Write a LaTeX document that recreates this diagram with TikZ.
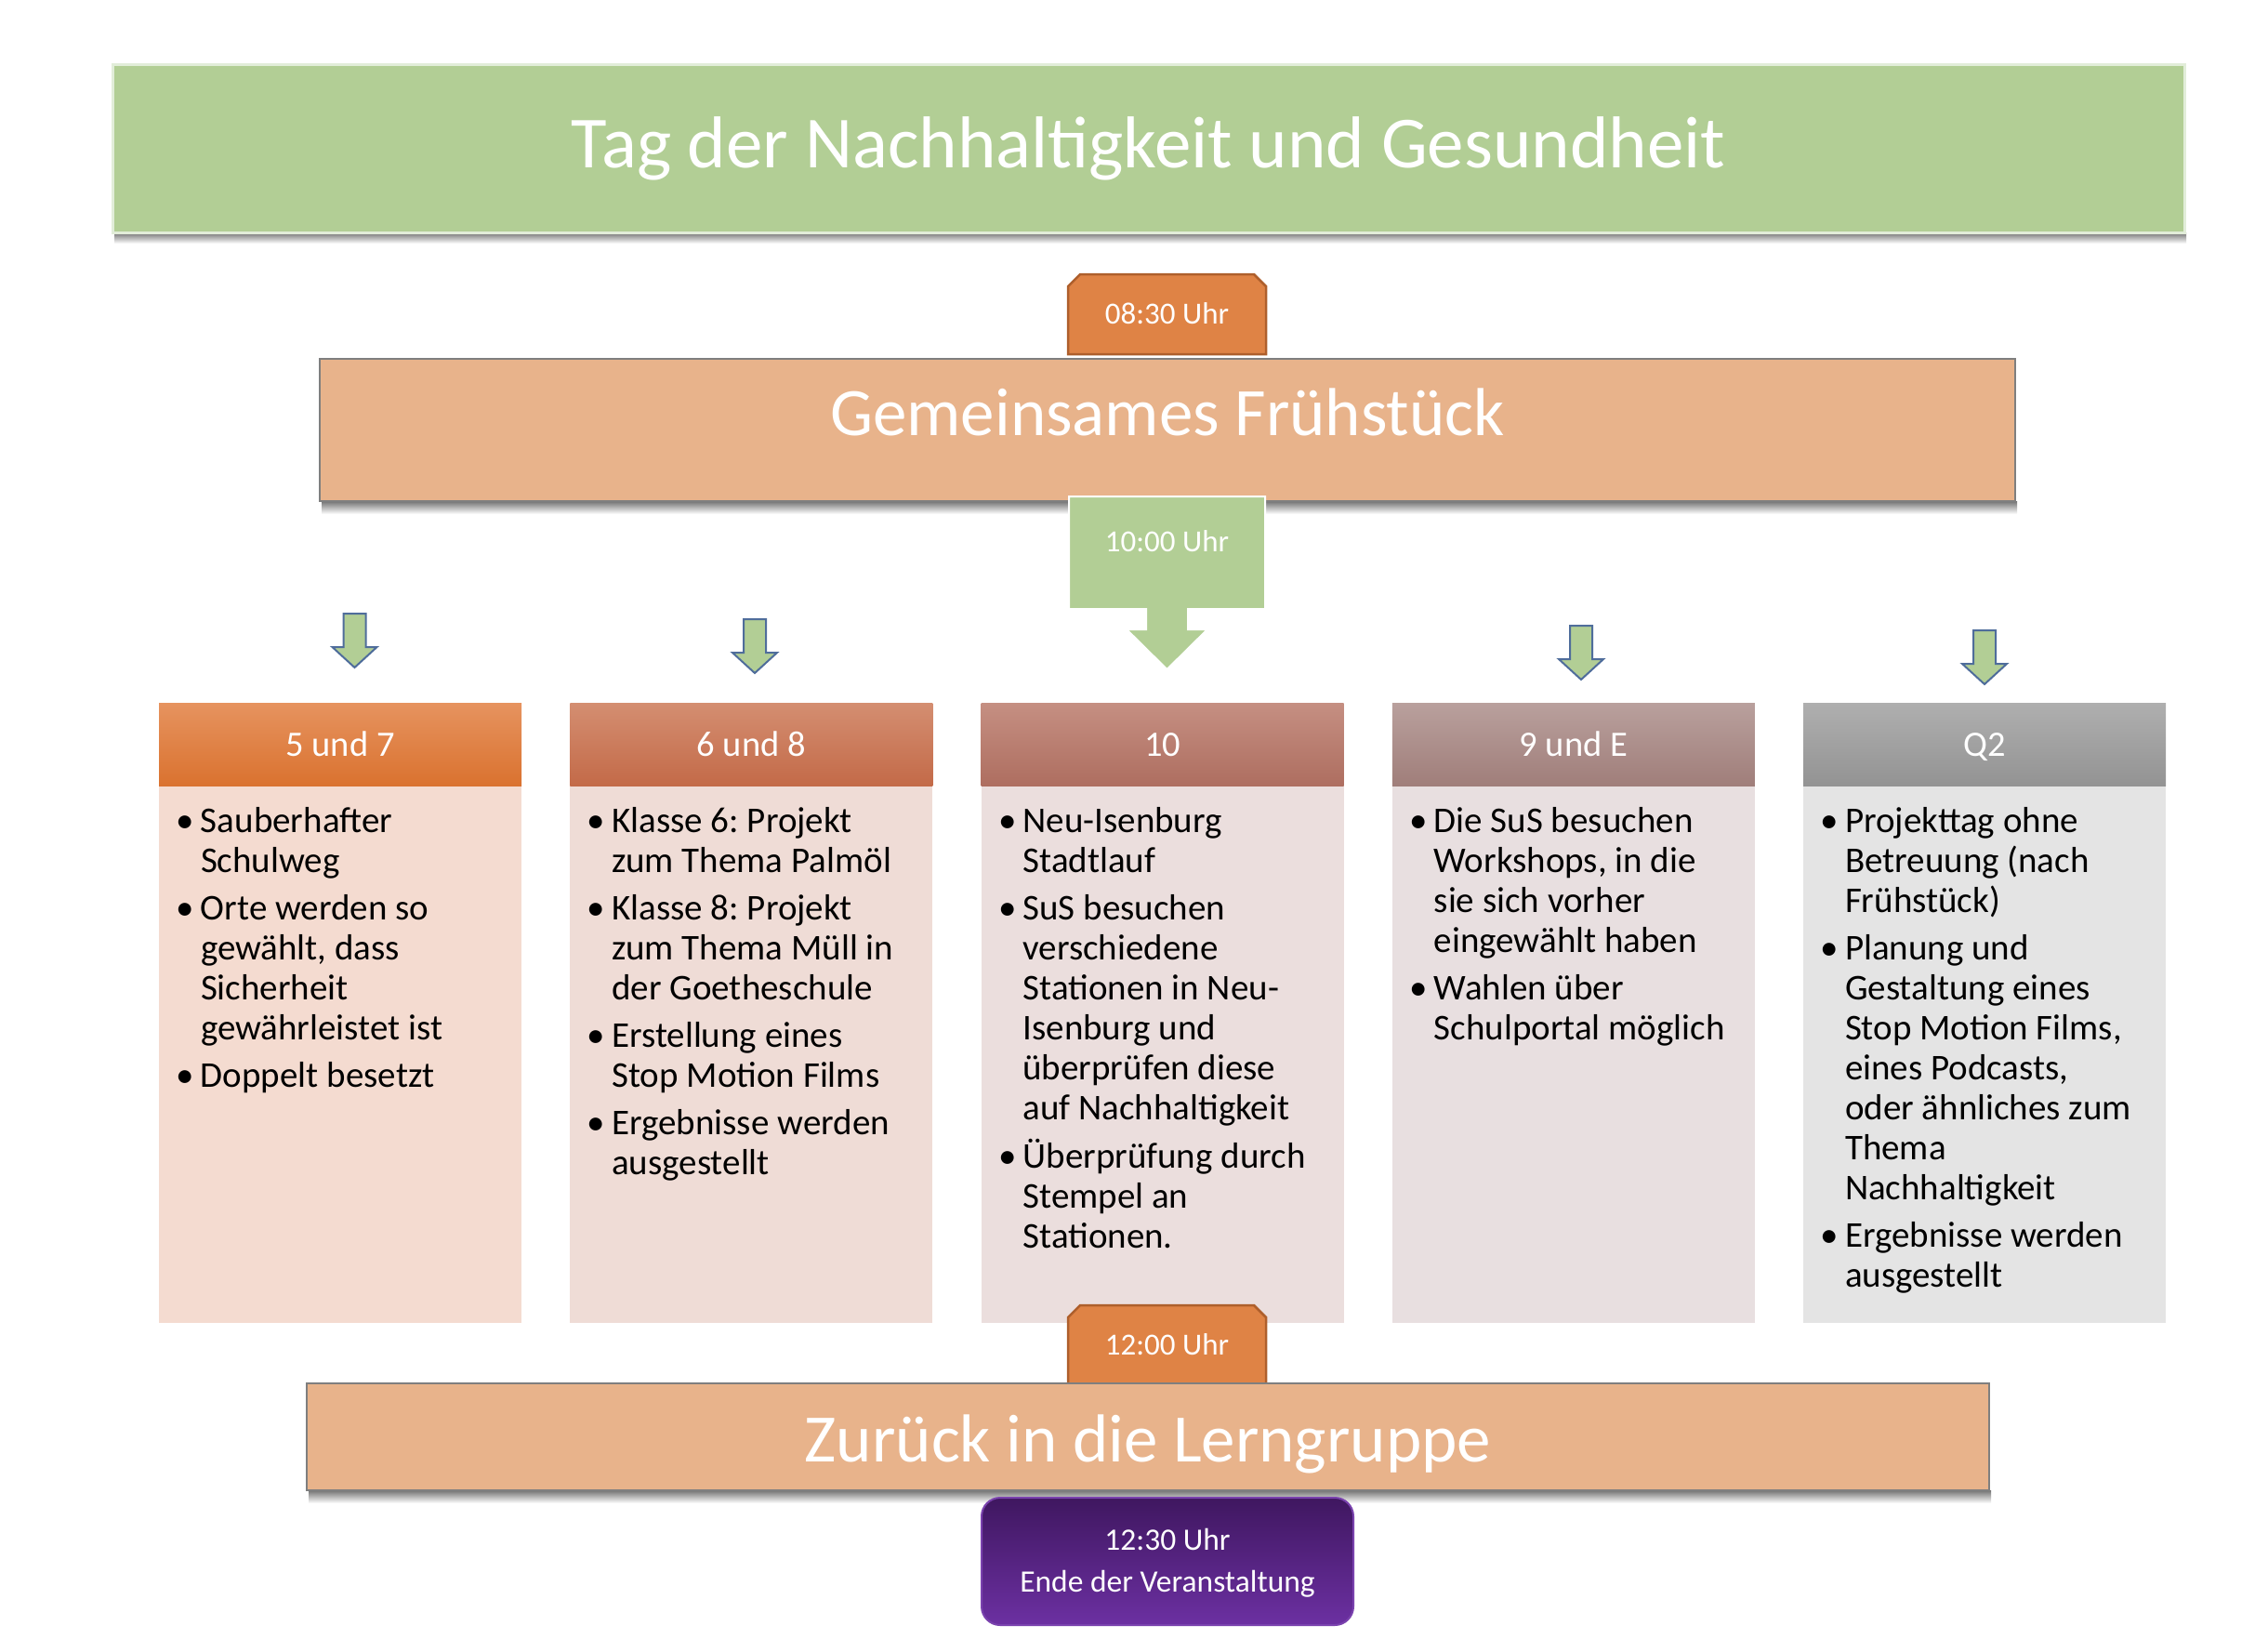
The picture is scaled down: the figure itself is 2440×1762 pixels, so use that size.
\documentclass[tikz,border=0pt]{standalone}
\usepackage{fontspec}
\setmainfont{Carlito}
\usetikzlibrary{calc}
\frenchspacing
\definecolor{titlegreen}{HTML}{B2CE95}
\definecolor{titleborder}{HTML}{E2EDD9}
\definecolor{mainorange}{HTML}{E8B38B}
\definecolor{boxgray}{HTML}{7F7F7F}
\definecolor{timeorange}{HTML}{DF8345}
\definecolor{timeborder}{HTML}{AE5F2C}
\definecolor{arrowblue}{HTML}{4F6D9B}
\definecolor{hatop}{HTML}{E6935F}\definecolor{habot}{HTML}{DA722F}
\definecolor{hbtop}{HTML}{D48E71}\definecolor{hbbot}{HTML}{C36A48}
\definecolor{hctop}{HTML}{C58F82}\definecolor{hcbot}{HTML}{AE6E60}
\definecolor{hdtop}{HTML}{B9A09D}\definecolor{hdbot}{HTML}{A07E7A}
\definecolor{hetop}{HTML}{AFAFAF}\definecolor{hebot}{HTML}{939393}
\definecolor{bodya}{HTML}{F4DBD0}
\definecolor{bodyb}{HTML}{EFDCD6}
\definecolor{bodyc}{HTML}{EBDEDD}
\definecolor{bodyd}{HTML}{E8DFE0}
\definecolor{bodye}{HTML}{E4E4E4}
\definecolor{purptop}{HTML}{3F1760}
\definecolor{purpbot}{HTML}{6C30A2}
\definecolor{purpborder}{HTML}{7A42AE}
\newcommand\bfont{\fontsize{39}{43}\selectfont\frenchspacing}
\newcommand\gapp{\\[8pt]}
\tikzset{
  base/.style={inner sep=0pt, outer sep=0pt},
  titlebox/.style={base, fill=titlegreen, draw=titleborder, line width=3pt},
  titletext/.style={base, anchor=base, text=white, font=\fontsize{79}{94}\selectfont},
  mainbox/.style={base, fill=mainorange, draw=boxgray, line width=2.5pt},
  maintext/.style={base, anchor=base, text=white, font=\fontsize{73}{88}\selectfont},
  timeshape/.style={fill=timeorange, draw=timeborder, line width=2.5pt},
  timetext/.style={base, anchor=base, text=white, font=\fontsize{33}{40}\selectfont},
  callshape/.style={fill=titlegreen, draw=white, line width=2pt},
  arrowline/.style={fill=titlegreen, draw=arrowblue, line width=2pt, line join=miter},
  header/.style={base, minimum width=390pt, minimum height=89pt, anchor=north west},
  headtext/.style={base, anchor=base, text=white, font=\fontsize{38.5}{43}\selectfont},
  bodybox/.style={base, minimum width=390pt, minimum height=578pt, anchor=north west},
  bodytext/.style={base, anchor=north west, text=black, font=\bfont},
  endbox/.style={base, rounded corners=20pt, top color=purptop, bottom color=purpbot, draw=purpborder, line width=2pt},
  endtextstyle/.style={base, anchor=base, text=white, font=\fontsize{33.5}{45}\selectfont},
  downarr/.pic={\draw[arrowline] (-12,0) -- (12,0) -- (12,36) -- (24,36) -- (0,58) -- (-24,36) -- (-12,36) -- cycle;},
}
\begin{document}
\begin{tikzpicture}[x=1pt,y=-1pt]
\useasboundingbox (0,0) rectangle (2440,1762);
% title
\shade[top color=black!55, bottom color=white] (123,250) rectangle (2352,262);
\node[titlebox, minimum width=2229pt, minimum height=181pt, anchor=north west] (title) at (121,69) {};
\node[titletext] (titletxt) at (1235.5,180) {Tag der Nachhaltigkeit und Gesundheit};
% breakfast
\shade[top color=black!55, bottom color=white] (346,539) rectangle (2170,553);
\node[mainbox, minimum width=1824pt, minimum height=153pt, anchor=north west] (fruh) at (344,386) {};
\node[maintext] (fruhtext) at (1256,468) {Gemeinsames Frühstück};
% 08:30
\coordinate (ta) at (1255.5,338);
\filldraw[timeshape] ($(ta)+(-106.5,43)$) -- ($(ta)+(-106.5,-30)$) -- ($(ta)+(-93.5,-43)$) -- ($(ta)+(93.5,-43)$) -- ($(ta)+(106.5,-30)$) -- ($(ta)+(106.5,43)$) -- cycle;
\node[timetext] (tatext) at (1255.5,348) {08:30 Uhr};
% 10:00 callout
\coordinate (tb) at (1255.5,534);
\filldraw[callshape] ($(tb)+(-105.5,0)$) -- ($(tb)+(105.5,0)$) -- ($(tb)+(105.5,121)$) -- ($(tb)+(22.5,121)$) -- ($(tb)+(22.5,143)$) -- ($(tb)+(43.5,143)$) -- ($(tb)+(0,186)$) -- ($(tb)+(-43.5,143)$) -- ($(tb)+(-22.5,143)$) -- ($(tb)+(-22.5,121)$) -- ($(tb)+(-105.5,121)$) -- cycle;
\node[timetext] (tbtext) at (1255.5,593) {10:00 Uhr};
% small arrows
\pic (arra) at (381.5,660) {downarr};
\pic (arrb) at (812,666) {downarr};
\pic (arrd) at (1701,673) {downarr};
\pic (arre) at (2135,678) {downarr};
% columns
\node[bodybox, fill=bodya] (ba) at (171,845) {};
\node[bodybox, fill=bodyb] (bb) at (613.25,845) {};
\node[bodybox, fill=bodyc] (bc) at (1055.5,845) {};
\node[bodybox, fill=bodyd] (bd) at (1497.75,845) {};
\node[bodybox, fill=bodye] (be) at (1940,845) {};
\node[header, top color=hatop, bottom color=habot] (ha) at (171,756) {};
\node[header, top color=hbtop, bottom color=hbbot] (hb) at (613.25,756) {};
\node[header, top color=hctop, bottom color=hcbot] (hc) at (1055.5,756) {};
\node[header, top color=hdtop, bottom color=hdbot] (hd) at (1497.75,756) {};
\node[header, top color=hetop, bottom color=hebot] (he) at (1940,756) {};
\node[headtext] (hat) at ($(ha.north)+(0,57)$) {5 und 7};
\node[headtext] (hbt) at ($(hb.north)+(0,57)$) {6 und 8};
\node[headtext] (hct) at ($(hc.north)+(0,57)$) {10};
\node[headtext] (hdt) at ($(hd.north)+(0,57)$) {9 und E};
\node[headtext] (het) at ($(he.north)+(0,57)$) {Q2};
\node[bodytext] (ta1) at ($(ba.north west)+(18.5,20)$) {\begin{tabular}{@{}p{26.5pt}@{}l@{}}
\textbullet & Sauberhafter\\ & Schulweg\gapp
\textbullet & Orte werden so\\ & gewählt, dass\\ & Sicherheit\\ & gewährleistet ist\gapp
\textbullet & Doppelt besetzt
\end{tabular}};
\node[bodytext] (tb1) at ($(bb.north west)+(18.5,20)$) {\begin{tabular}{@{}p{26.5pt}@{}l@{}}
\textbullet & Klasse 6: Projekt\\ & zum Thema Palmöl\gapp
\textbullet & Klasse 8: Projekt\\ & zum Thema Müll in\\ & der Goetheschule\gapp
\textbullet & Erstellung eines\\ & Stop Motion Films\gapp
\textbullet & Ergebnisse werden\\ & ausgestellt
\end{tabular}};
\node[bodytext] (tc1) at ($(bc.north west)+(18.5,20)$) {\begin{tabular}{@{}p{26.5pt}@{}l@{}}
\textbullet & Neu-Isenburg\\ & Stadtlauf\gapp
\textbullet & SuS besuchen\\ & verschiedene\\ & Stationen in Neu-\\ & Isenburg und\\ & überprüfen diese\\ & auf Nachhaltigkeit\gapp
\textbullet & Überprüfung durch\\ & Stempel an\\ & Stationen.
\end{tabular}};
\node[bodytext] (td1) at ($(bd.north west)+(18.5,20)$) {\begin{tabular}{@{}p{26.5pt}@{}l@{}}
\textbullet & Die SuS besuchen\\ & Workshops, in die\\ & sie sich vorher\\ & eingewählt haben\gapp
\textbullet & Wahlen über\\ & Schulportal möglich
\end{tabular}};
\node[bodytext] (te1) at ($(be.north west)+(18.5,20)$) {\begin{tabular}{@{}p{26.5pt}@{}l@{}}
\textbullet & Projekttag ohne\\ & Betreuung (nach\\ & Frühstück)\gapp
\textbullet & Planung und\\ & Gestaltung eines\\ & Stop Motion Films,\\ & eines Podcasts,\\ & oder ähnliches zum\\ & Thema\\ & Nachhaltigkeit\gapp
\textbullet & Ergebnisse werden\\ & ausgestellt
\end{tabular}};
% 12:00
\coordinate (tc) at (1255.5,1446.5);
\filldraw[timeshape] ($(tc)+(-106.5,42.5)$) -- ($(tc)+(-106.5,-29.5)$) -- ($(tc)+(-93.5,-42.5)$) -- ($(tc)+(93.5,-42.5)$) -- ($(tc)+(106.5,-29.5)$) -- ($(tc)+(106.5,42.5)$) -- cycle;
\node[timetext] (tctext) at (1255.5,1457) {12:00 Uhr};
% back
\shade[top color=black!55, bottom color=white] (332,1603) rectangle (2142,1617);
\node[mainbox, minimum width=1810pt, minimum height=115pt, anchor=north west] (back) at (330,1488) {};
\node[maintext] (backtext) at (1235,1572) {Zurück in die Lerngruppe};
% end
\node[endbox, minimum width=400pt, minimum height=137pt, anchor=north west] (endb) at (1056,1611) {};
\node[endtextstyle] (endtexta) at (1256,1667) {12:30 Uhr};
\node[endtextstyle] (endtextb) at (1256,1712) {Ende der Veranstaltung};
\end{tikzpicture}
\end{document}
